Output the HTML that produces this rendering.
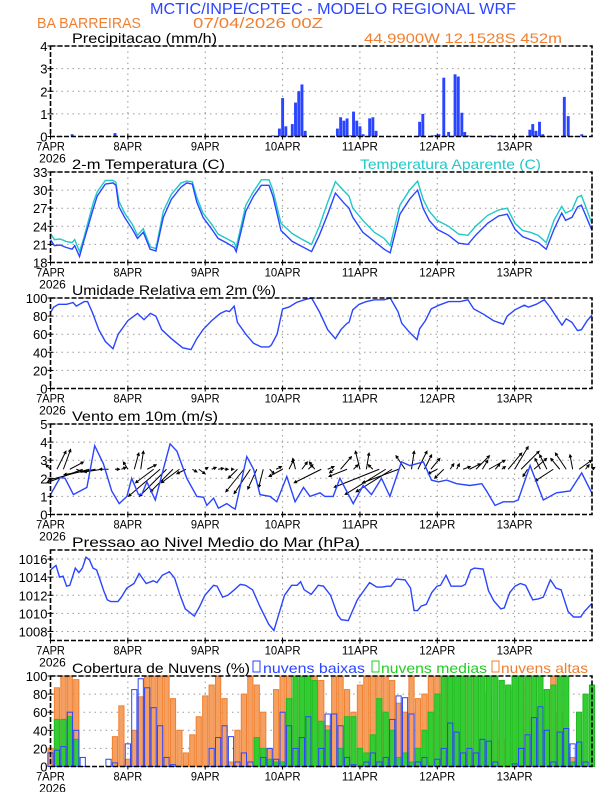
<!DOCTYPE html>
<html><head><meta charset="utf-8"><style>
body{margin:0;background:#fff;}
svg{display:block;font-family:"Liberation Sans",sans-serif;}
</style></head><body>
<svg id="c" width="612" height="792" viewBox="0 0 612 792" xmlns="http://www.w3.org/2000/svg">
<text x="150" y="14" textLength="366" lengthAdjust="spacingAndGlyphs" font-size="16" fill="#2a45ff">MCTIC/INPE/CPTEC - MODELO REGIONAL WRF</text>
<text x="37" y="28" textLength="104" lengthAdjust="spacingAndGlyphs" font-size="15" fill="#f08030">BA BARREIRAS</text>
<text x="193" y="28" textLength="130" lengthAdjust="spacingAndGlyphs" font-size="15" fill="#f08030">07/04/2026 00Z</text>
<text x="364" y="43" textLength="198" lengthAdjust="spacingAndGlyphs" font-size="14" fill="#f08030">44.9900W 12.1528S 452m</text>
<text x="72" y="43" textLength="145" lengthAdjust="spacingAndGlyphs" font-size="14" fill="#000">Precipitacao (mm/h)</text>
<text x="72" y="169" textLength="153" lengthAdjust="spacingAndGlyphs" font-size="14" fill="#000">2-m Temperatura (C)</text>
<text x="360" y="169" textLength="181" lengthAdjust="spacingAndGlyphs" font-size="14" fill="#20c8c8">Temperatura Aparente (C)</text>
<text x="72" y="295" textLength="204" lengthAdjust="spacingAndGlyphs" font-size="14" fill="#000">Umidade Relativa em 2m (%)</text>
<text x="72" y="421" textLength="146" lengthAdjust="spacingAndGlyphs" font-size="14" fill="#000">Vento em 10m (m/s)</text>
<text x="72" y="547" textLength="288" lengthAdjust="spacingAndGlyphs" font-size="14" fill="#000">Pressao ao Nivel Medio do Mar (hPa)</text>
<text x="72" y="673" textLength="178" lengthAdjust="spacingAndGlyphs" font-size="14" fill="#000">Cobertura de Nuvens (%)</text>
<rect x="253" y="661" width="7" height="11" fill="none" stroke="#2a45ff"/>
<text x="263" y="673" textLength="102" lengthAdjust="spacingAndGlyphs" font-size="14" fill="#2a45ff">nuvens baixas</text>
<rect x="372" y="661" width="7" height="11" fill="none" stroke="#22cc22"/>
<text x="381" y="673" textLength="106" lengthAdjust="spacingAndGlyphs" font-size="14" fill="#22cc22">nuvens medias</text>
<rect x="492" y="661" width="7" height="11" fill="none" stroke="#f08030"/>
<text x="501" y="673" textLength="87" lengthAdjust="spacingAndGlyphs" font-size="14" fill="#f08030">nuvens altas</text>
</svg>
<script>
const dayLabels=["7APR","8APR","9APR","10APR","11APR","12APR","13APR"];
const precipHours=[6.7,15.7,20,69,71,72,73,75,76,77,78,79,89,90,91,92,93,94,95,96,97,99,100,101,114.5,115.5,118.5,119.5,120.5,122,123.5,125.5,126.5,127.6,128.5,129.5,136.5,148.7,149.6,150.6,151.7,152.7,159.4,160.6,164.8];
const precipValues=[0.1,0.05,0.15,0.05,0.35,1.7,0.45,0.55,1.5,2.0,2.3,0.25,0.35,0.85,0.7,0.8,0.05,1.1,0.7,0.45,0.1,0.8,0.85,0.25,0.65,1.0,0.05,0.07,0.1,2.6,0.2,2.75,2.65,1.05,0.2,0.05,0.05,0.3,0.55,0.25,0.65,0.1,1.75,0.9,0.1];
const tempHours=[0,1.2,3,4.8,6.7,7.5,9,10.3,13.3,14.5,17,19.4,20.3,21.2,23,25.4,27,28.8,30.9,32.7,35,37.5,40.5,42.3,44,45.4,47.3,50.2,52,54.5,57,57.6,60.6,63,65.4,67.8,69,71.5,75,77.5,81,83.4,86,88.4,90.8,92.6,93.8,96.9,100.5,103.5,105.4,108.4,111.4,113.9,115.6,117.5,119.9,123.5,126.6,129.5,131.9,135.6,139,141.7,144.1,146.5,148.9,151.3,153.8,156.2,158.6,159.8,161.8,163.5,164.7,165.9,168];
const tempValues=[21.8,20.8,20.9,20.5,20.2,20.8,19.0,21.5,27,29,31,31.2,30.8,27.3,25.5,23.5,22,23,20.2,19.9,25.5,28.5,30.5,31.2,31,28,25.5,23.4,22,21.3,20.5,19.8,26.5,29,30.8,30.8,29,23.3,21.5,20.8,19.8,22.5,26,29.5,28,27,25.5,23,21.5,20.2,19.6,26,28.5,30,27,25,23.5,22.5,21.2,21,22.5,24.5,25.7,26,23.5,22.3,21.8,21.3,20.2,23.5,26.2,25,25.5,27.2,27.5,26,23.3];
const apparentValues=[22.8,21.8,21.9,21.5,21.3,21.8,19.8,22,28,29.7,31.6,31.6,31.3,28.2,26.2,24.3,22.5,23.6,20.6,20.3,26.5,29.3,31.2,31.5,31.4,28.8,26.2,24.2,22.7,22,21.3,20.5,27.5,29.8,31.7,31.7,30,24.5,22.8,22,21,24,28,31.4,30,29,27,25,23,22,20.8,27.5,30,31.5,28.5,26.5,25,24,22.7,22.5,24,25.8,26.7,27,24.5,23.3,23,22.5,21.3,25,27.3,26.2,26.7,28.8,29.1,27.5,24.4];
const rhHours=[0,1,2.5,5,7,8,10.5,11.5,13,15,17,19.4,21,24,27,29,31,32.7,34.5,37.5,41,43.6,45.4,47.3,50,52.7,54.5,55.5,57,58,60.6,63,65.4,67.8,68.5,70.3,72,74,76.3,78.7,81,83.4,86,88.4,90.1,92,92.6,93.8,95.7,98,100.5,103.5,105.4,107.8,109,111.4,113.7,114.5,116.3,118.1,120.5,123.5,127.1,129.5,131.3,134.4,137.4,140.5,141.7,144.1,147,148.3,150.7,153.2,155,156.8,158.7,160,161.8,163.5,164.7,166.5,168];
const rhValues=[84,90,93,93,95,91,96,96,84,65,52,44,60,75,83,76,83,80,65,55,45,43,55,65,75,83,86,85,91,73,60,50,46,46,48,60,88,90,95,98,100,85,65,55,65,72,73,87,93,96,98,98,100,85,72,62,54,66,75,88,92,96,96,98,88,82,75,71,80,87,92,90,93,98,90,80,70,77,73,64,65,75,81];
const windHours=[0,3,4.5,7.1,9.7,11.3,13.7,16.4,19,21.3,23.7,25.2,27.3,28.3,29.9,32.5,35,37.1,39.2,42.3,45.4,47.5,48.5,50.6,52.1,54.7,56.3,57.3,58.8,60.9,63,65,68.1,70.2,73.3,75.9,78.5,80.5,83.6,85.1,87.7,89.8,93.9,97,99.6,102.7,105.3,108.9,111.5,115.7,118.2,120.3,122.9,126,130.1,133.8,135.3,137.9,140.5,143.6,145.1,148.8,152.9,157,161.2,164.8,167.9];
const windSpeed=[1.1,2.05,2.0,1.1,1.35,1.5,3.8,2.8,1.3,0.6,1.0,2.0,1.1,1.1,1.8,0.8,2.5,3.9,3.5,2.0,1.0,0.95,0.5,0.9,0.35,0.6,0.4,0.3,1.5,3.2,2.5,1.1,1.0,0.7,2.1,0.7,1.5,1.0,1.2,1.0,1.0,2.0,0.6,1.6,1.1,2.0,1.0,2.9,2.7,2.9,1.9,1.8,1.9,1.7,1.6,1.7,1.3,0.5,0.7,0.7,0.8,2.7,0.8,1.2,1.3,2.3,1.2];
const arrowHours=[0,2,4,6,8,10,12,14,16,18,20,22,24,26,28,30,32,34,36,38,40,42,44,46,48,50,52,54,56,58,60,62,64,66,68,70,72,74,76,78,80,82,84,86,88,90,92,94,96,98,100,102,104,106,108,110,112,114,116,118,120,122,124,126,128,130,132,134,136,138,140,142,144,146,148,150,152,154,156,158,160,162,164,166,168];
const windU=[-0.5,1,0.8,1.5,0.8,-4,-4.5,-3.5,-2,-1,0.5,0.5,-0.5,0.5,0.3,1,-2,-3.5,-3,-2.5,-2,-1,0.5,0.7,0.3,0.5,0.6,0.4,0.3,-1,-2,-1.8,-1,-0.5,0.5,0.6,-1.5,0.5,-0.3,0.6,0.5,-0.6,-3,0.7,-0.5,1.2,-2,0.5,-0.5,0.3,-0.5,-5,-4.5,-4,-4,-1,0.3,1,0.8,1,-1,-1,0.4,0.3,0.8,1.2,1.5,0.6,1.8,0.5,0.4,1.5,1.5,2,-0.5,1.4,-0.6,-0.8,-2,-1,-1.2,-0.3,1.4,0.4,0.3];
const windV=[0.5,2,2.2,0.8,-0.3,-1.5,-1.2,-0.6,-0.3,0,0,0.2,0.8,1.8,2,0.5,-1.5,-3,-3,-2.5,-1.5,-0.5,-0.3,-0.5,0.2,0.2,0.1,0,0,-1,-2.5,-2.7,-2.2,-2,-0.5,0.3,-0.8,1,1.2,0.8,0.5,0.8,-1.5,0.3,-0.4,1.4,-0.8,0.5,2,1.8,0.5,-2,-2.8,-2.5,-1.5,1.5,2,2,1.6,1.2,-0.5,-1,0.6,0.6,0.3,0.6,1.5,1,1,0.6,0.3,1.8,2.5,2,-0.8,1.2,1.2,1.6,-1.3,1.2,1.8,1.6,1,0.5,0.2];
const presHours=[0,1.7,2.8,3.9,5,6,7.7,8.8,9.9,11,12.1,13.2,14.3,15.4,16.5,17.6,18.7,20.9,22,23.7,25.9,27.5,29.7,31.9,33,34.7,36.9,38.5,40.2,41.8,44.6,46.2,47.9,50.6,51.7,53.4,55,56.7,58.9,60.5,62.7,64.9,67.7,69.3,72.6,74.8,76.5,77.6,78.7,80.9,83.1,84.7,86.9,89.1,90.2,92.4,95.2,96.8,99,101.2,102.9,104.5,105.6,107.3,110,111.7,112.8,113.9,115,116.6,118.3,119.9,121,122.7,124.3,127.6,128.7,130.4,131.5,134.2,135.9,137.5,139.7,140.8,142.5,144.1,145.8,147.4,149.6,151.3,152.9,155.1,156.8,158.4,160.6,162.3,164.5,165.6,168];
const presValues=[1014.8,1015.3,1014.0,1014.1,1013.0,1013.1,1015.0,1014.5,1015.0,1016.2,1015.9,1015.0,1014.8,1013.7,1012.5,1011.5,1011.3,1011.3,1011.8,1012.8,1013.3,1014.4,1013.3,1013.6,1013.4,1014.2,1014.6,1013.9,1012.0,1010.5,1009.7,1010.7,1012.0,1013.1,1013.0,1011.8,1012.0,1012.5,1013.2,1013.1,1012.6,1010.8,1008.8,1008.1,1012.0,1013.1,1013.1,1013.5,1012.6,1012.1,1013.1,1013.0,1012.0,1009.8,1009.3,1009.2,1011.5,1012.3,1013.4,1012.9,1012.9,1013.0,1013.0,1013.8,1013.7,1012.8,1010.3,1010.3,1010.8,1011.0,1012.3,1013.0,1013.1,1014.2,1013.0,1013.0,1013.2,1014.8,1015.0,1014.9,1012.5,1011.4,1010.5,1010.6,1012.3,1013.0,1013.3,1013.1,1011.5,1011.6,1011.8,1013.7,1012.8,1012.6,1010.2,1009.6,1009.6,1010.2,1011.1];
const cloudHours=arrowHours;
const cloudHigh=[20,87,100,100,96,0,0,0,0,0,33,67,8,40,77,100,100,100,100,75,40,15,35,55,78,90,100,75,5,40,80,100,90,60,20,85,100,100,75,95,100,100,95,45,100,100,85,60,90,100,100,100,100,95,70,60,100,75,80,100,100,100,100,100,100,100,100,95,80,50,30,85,100,95,100,100,65,85,100,60,15,10,0,0,0];
const cloudMid=[0,52,52,55,30,0,0,0,0,0,0,0,0,0,0,0,0,0,0,0,0,0,0,0,0,0,0,0,0,0,0,0,32,20,8,5,5,75,100,100,100,95,50,40,0,20,55,55,20,15,35,75,60,40,10,15,5,20,40,60,80,100,100,100,100,100,100,100,100,100,95,90,100,100,100,100,100,85,90,100,100,5,60,80,90];
const cloudLow=[15,18,22,60,40,10,0,0,0,8,4,0,25,85,97,87,65,45,10,2,0,0,0,0,0,20,32,45,33,5,15,5,0,10,20,8,60,45,20,32,55,0,20,58,58,45,10,2,0,5,15,5,10,52,78,76,58,5,10,0,8,20,48,38,15,20,15,30,28,5,0,0,3,20,35,54,66,40,5,38,42,25,27,5,0];

const NS="http://www.w3.org/2000/svg";
const svg=document.getElementById('c');
const L=50.5,R=592,H=90.5;
function xs(h){return L+h/168*(R-L);}
function mk(tag,attrs,parent){const e=document.createElementNS(NS,tag);for(const k in attrs)e.setAttribute(k,attrs[k]);(parent||svg).appendChild(e);return e;}
function ys(top,lo,hi){return v=>top+H-(v-lo)/(hi-lo)*H;}
function panel(name,top,lo,hi,ticks){
  const g=mk('g',{});
  
  
  const y=ys(top,lo,hi);
  ticks.forEach(t=>{
    const gl=mk('line',{x1:L,x2:R,y1:y(t),y2:y(t),stroke:'#999','stroke-dasharray':'1.5,4','stroke-width':1},g);
    
    
    const tk=mk('line',{x1:L-3,x2:L+3,y1:y(t),y2:y(t),stroke:'#000'},g);
    
    
    const tx=mk('text',{x:L-3,y:y(t)+5,'text-anchor':'end','font-size':13,fill:'#000'},g);
    tx.textContent=t;
    
    
  });
  dayLabels.forEach((d,i)=>{
    const x=xs(i*24);
    if(i>0){const gl=mk('line',{x1:x,x2:x,y1:top,y2:top+H,stroke:'#999','stroke-dasharray':'1.5,4'},g);
    
    }
    const tk=mk('line',{x1:x,x2:x,y1:top+H-3,y2:top+H+3,stroke:'#000'},g);
    
    
    const tx=mk('text',{x:x,y:top+H+14,'text-anchor':'middle','font-size':12,fill:'#000',textLength:d.length*7.2,lengthAdjust:'spacingAndGlyphs'},g);
    tx.textContent=d;
    
    
  });
  const yr=mk('text',{x:L+2,y:top+H+26,'text-anchor':'middle','font-size':12,fill:'#000'},g);
  yr.textContent='2026';
  
  
  return {g,y,top};
}
function frame(p){
  const f=mk('rect',{x:L,y:p.top,width:R-L,height:H,fill:'none',stroke:'#000','stroke-width':1.6,'stroke-dasharray':'5,2'},p.g);
  
  
}
function line(p,hs,vs,color,name){
  const d=hs.map((h,i)=>(i?'L':'M')+xs(h).toFixed(1)+','+p.y(vs[i]).toFixed(1)).join('');
  const e=mk('path',{d:d,fill:'none',stroke:color,'stroke-width':1.4},p.g);
  
  
}
const p1=panel('precip',46,0,4,[0,1,2,3,4]);
precipHours.forEach((h,i)=>{
  const y0=p1.y(0),y1=p1.y(precipValues[i]);
  const b=mk('rect',{x:xs(h)-1.4,y:y1,width:2.9,height:y0-y1,fill:'#2a45ff'},p1.g);
  
  
});
frame(p1);
const p2=panel('temp',172,18,33,[18,21,24,27,30,33]);
line(p2,tempHours,apparentValues,'#20c8c8','apparent-temp-line');
line(p2,tempHours,tempValues,'#2a45ff','temp-line');
frame(p2);
const p3=panel('rh',298,0,100,[0,20,40,60,80,100]);
line(p3,rhHours,rhValues,'#2a45ff','rh-line');
frame(p3);
const p4=panel('wind',424,0,5,[0,1,2,3,4,5]);
const k=9,by=p4.y(2.5);
arrowHours.forEach((h,i)=>{
  const x0=xs(h),x1=x0+windU[i]*k,y1=by-windV[i]*k;
  const ang=Math.atan2(y1-by,x1-x0);
  const a1=ang+Math.PI*0.85,a2=ang-Math.PI*0.85;
  const d='M'+x0+','+by+'L'+x1+','+y1+'M'+(x1+3*Math.cos(a1))+','+(y1+3*Math.sin(a1))+'L'+x1+','+y1+'L'+(x1+3*Math.cos(a2))+','+(y1+3*Math.sin(a2));
  const e=mk('path',{d:d,fill:'none',stroke:'#000','stroke-width':1},p4.g);
  
  
});
line(p4,windHours,windSpeed,'#2a45ff','wind-speed-line');
frame(p4);
const p5=panel('pressure',550,1007,1017,[1008,1010,1012,1014,1016]);
line(p5,presHours,presValues,'#2a45ff','pressure-line');
frame(p5);
const p6=panel('cloud',676,0,100,[0,20,40,60,80,100]);
function bars(vals,fill,stroke,name){
  cloudHours.forEach((h,i)=>{
    if(vals[i]<=0)return;
    const y0=p6.y(0),y1=p6.y(vals[i]);
    const b=mk('rect',{x:xs(h)-2.6,y:y1,width:5.2,height:y0-y1,fill:fill,stroke:stroke,'stroke-width':1},p6.g);
    
    
  });
}
bars(cloudHigh,'#f5a060','#f08030','cloud-high-bar');
bars(cloudMid,'#33cc33','#22bb22','cloud-mid-bar');
bars(cloudLow,'none','#2a45ff','cloud-low-bar');
frame(p6);
</script>
</body></html>
